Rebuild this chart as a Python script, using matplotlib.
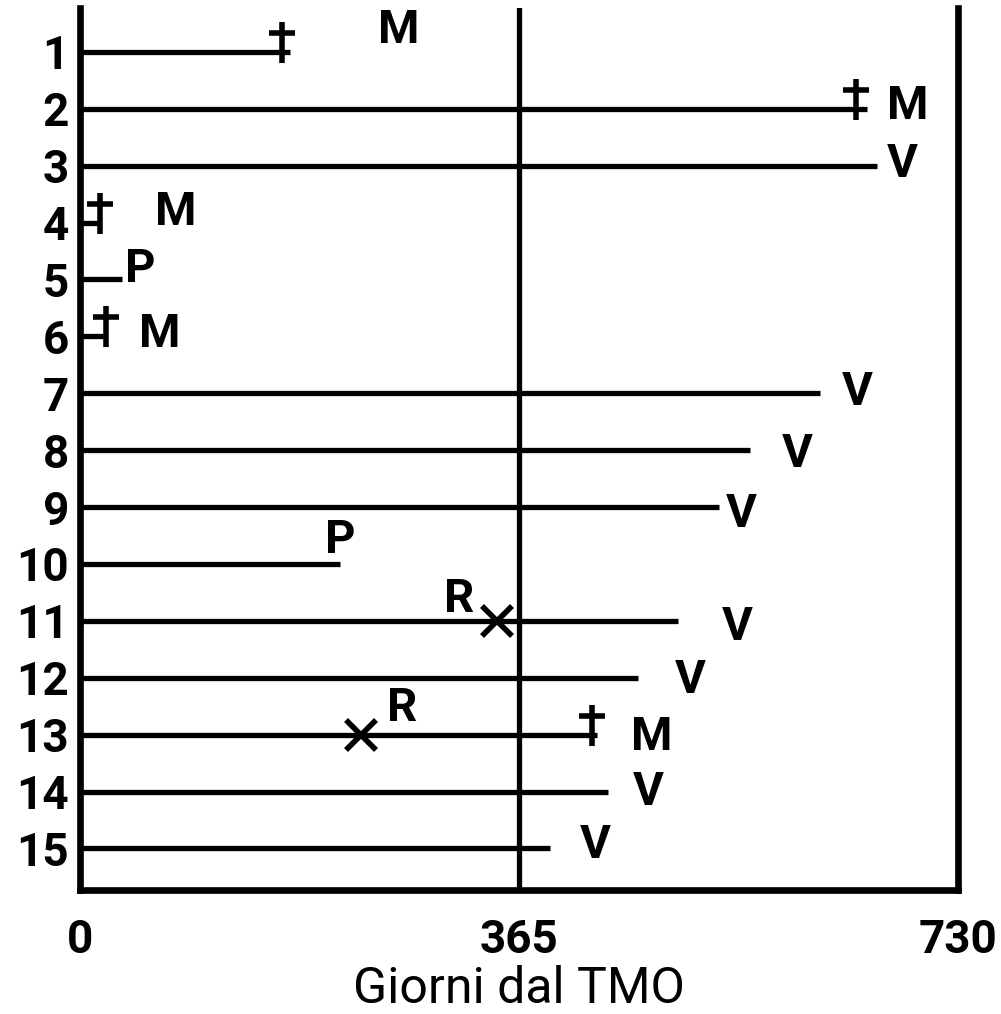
import numpy as np
import matplotlib
matplotlib.use("Agg")
import matplotlib.pyplot as plt
from matplotlib.path import Path

plt.rcParams['font.family'] = ['Roboto', 'DejaVu Sans']

# follow-up per patient (days from transplant)
patients = list(range(1, 16))
follow_up = [175, 654, 663, 17, 35, 22, 615, 557, 531, 216, 497, 464, 430, 439, 391]
# outcome: M = morto, V = vivo, P = perso al follow-up
outcome = ['M', 'M', 'V', 'M', 'P', 'M', 'V', 'V', 'V', 'P', 'V', 'V', 'M', 'V', 'V']
# deaths (dagger) and rejections (cross)
death_pt = [1, 2, 4, 6, 13]
death_day = [168, 645, 17, 22, 426]
reject_pt = [11, 13]
reject_day = [347, 234]

# where each outcome letter sits, in pixels from the end of its line
label_off = [(108, 22), (41, 3), (25, 2), (75, 11), (18, 10), (53, 2), (38, 1),
             (47, -4), (23, -7), (0, 24), (59, -6), (52, -2), (55, -2), (40, 0), (45, 3)]
reject_off = [(-38, 22), (41, 27)]

# dagger marker: upright with crossbar above the line
dagger = Path([(0, -11), (0, 30), (-13, 19), (13, 19)],
              [Path.MOVETO, Path.LINETO, Path.MOVETO, Path.LINETO])

fig = plt.figure(figsize=(10.01, 10.14), dpi=100)
ax = fig.add_axes([80 / 1001, 1 - 890 / 1014, 878 / 1001, 882 / 1014])

lw = 3.8
ax.hlines(patients, 0, follow_up, color='black', linewidth=lw, capstyle='butt')
ax.axvline(365, color='black', linewidth=lw)

ax.plot(death_day, death_pt, linestyle='none', marker=dagger, markersize=43,
        markeredgewidth=4, color='black')
ax.plot(reject_day, reject_pt, linestyle='none', marker='x', markersize=22,
        markeredgewidth=4, color='black')

fs = 34
for p, d, lab, (dx, dy) in zip(patients, follow_up, outcome, label_off):
    ax.annotate(lab, (d, p), xytext=(dx, dy), textcoords='offset pixels',
                ha='center', va='center', fontsize=fs, fontweight='bold')
for p, d, (dx, dy) in zip(reject_pt, reject_day, reject_off):
    ax.annotate('R', (d, p), xytext=(dx, dy), textcoords='offset pixels',
                ha='center', va='center', fontsize=fs, fontweight='bold')

ax.set_xlim(0, 730)
ax.set_ylim(15.73, 0.23)
ax.set_xticks([0, 365, 730])
ax.set_yticks(patients)
ax.tick_params(axis='both', length=0, labelsize=33)
ax.tick_params(axis='x', pad=20)
ax.tick_params(axis='y', pad=8)
for t in ax.get_xticklabels() + ax.get_yticklabels():
    t.set_fontweight('bold')
ax.set_xlabel('Giorni dal TMO', fontsize=36, labelpad=2)

ax.spines['top'].set_visible(False)
for s in ['left', 'right', 'bottom']:
    ax.spines[s].set_linewidth(4.8)
    ax.spines[s].set_capstyle('projecting')

fig.savefig('out.png', dpi=100)
